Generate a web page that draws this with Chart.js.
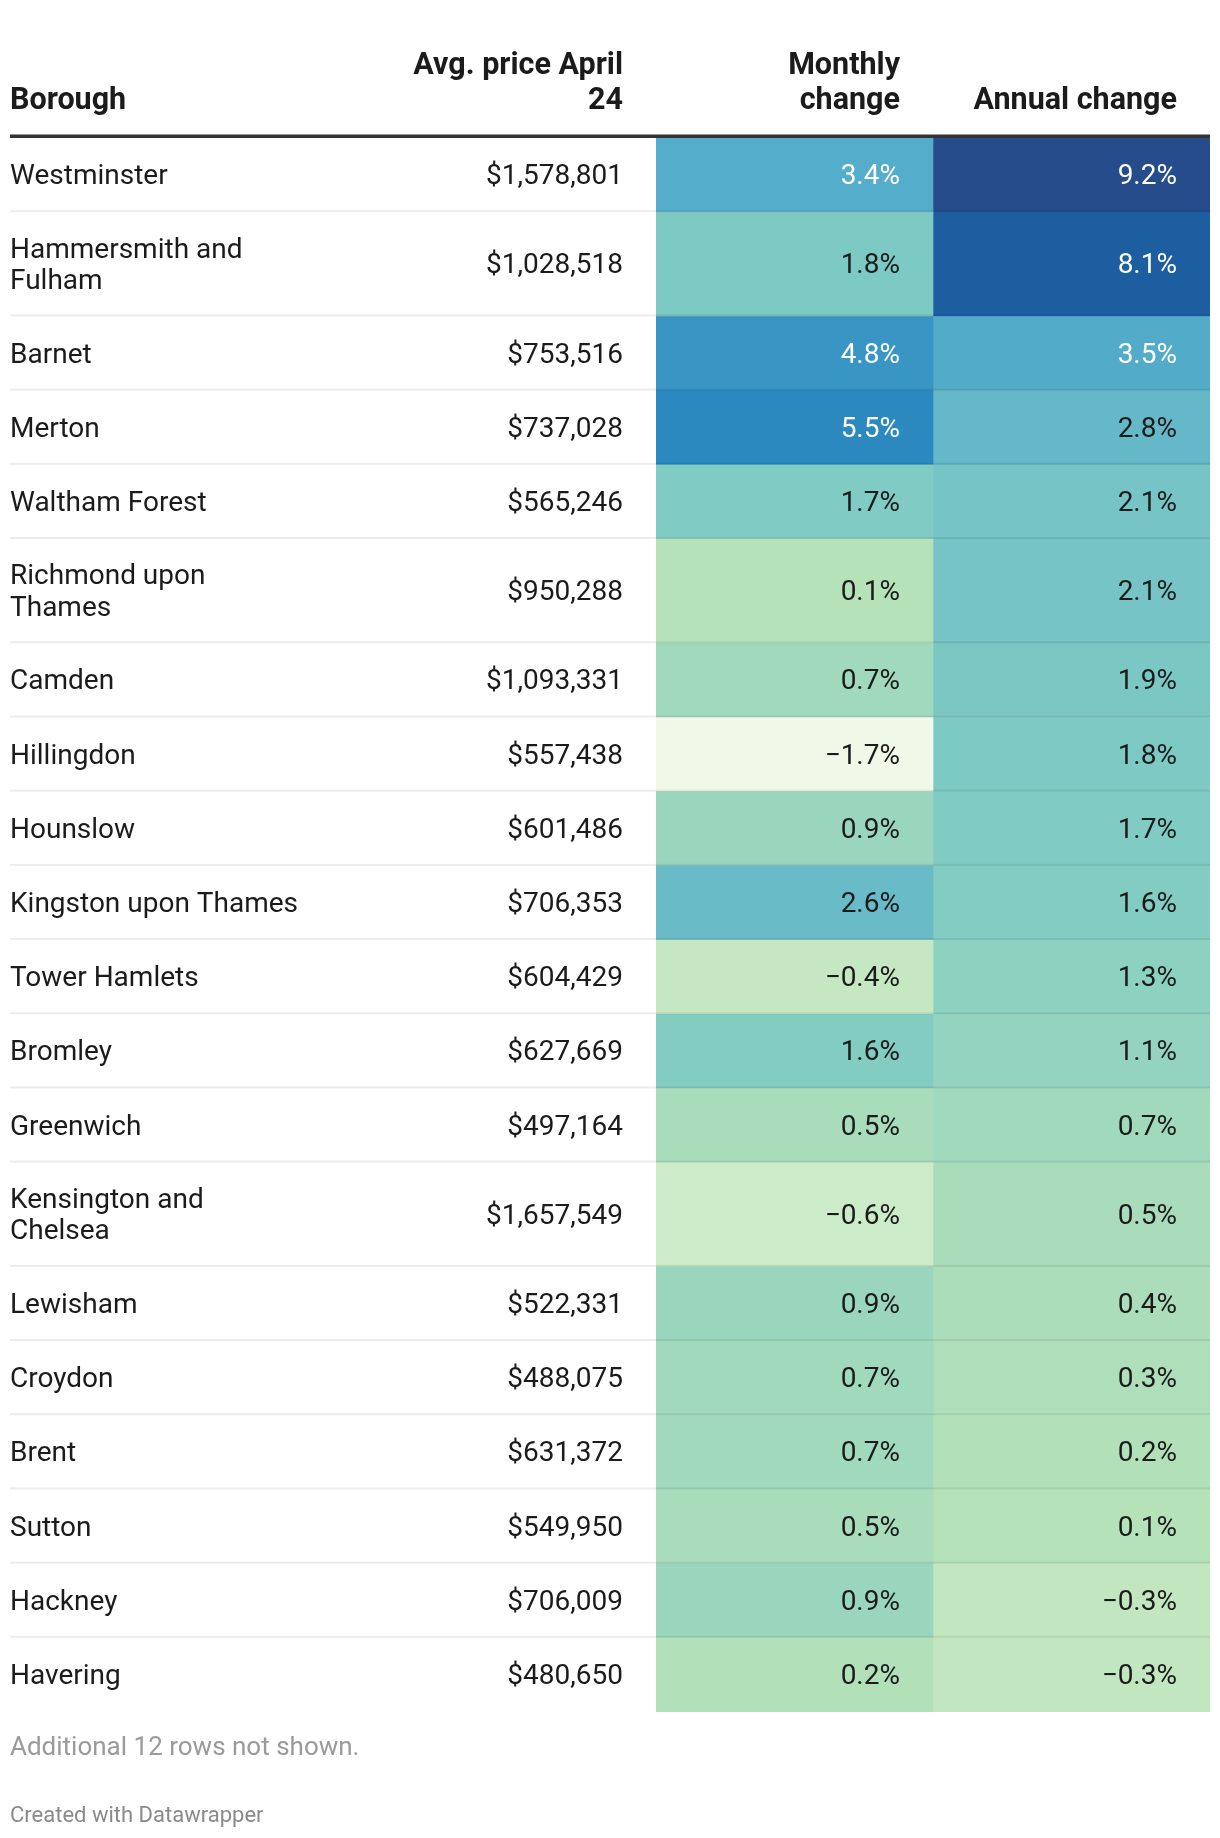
<!DOCTYPE html>
<html>
<head>
<meta charset="utf-8">
<title>London boroughs – average price April 24</title>
<script src="https://cdn.jsdelivr.net/npm/chart.js@4.4.1/dist/chart.umd.min.js"></script>
<style>
    html, body { margin: 0; padding: 0; background: #ffffff; }
    #wrap { position: relative; width: 1220px; height: 1838px; }
</style>
</head>
<body>
<div id="wrap"><canvas id="tableChart"></canvas></div>
<script>
// -------------------------------------------------------------
// Table data (one entry per row, top to bottom)
// -------------------------------------------------------------
const boroughs = [
    ['Westminster'],
    ['Hammersmith and', 'Fulham'],
    ['Barnet'],
    ['Merton'],
    ['Waltham Forest'],
    ['Richmond upon', 'Thames'],
    ['Camden'],
    ['Hillingdon'],
    ['Hounslow'],
    ['Kingston upon Thames'],
    ['Tower Hamlets'],
    ['Bromley'],
    ['Greenwich'],
    ['Kensington and', 'Chelsea'],
    ['Lewisham'],
    ['Croydon'],
    ['Brent'],
    ['Sutton'],
    ['Hackney'],
    ['Havering']
];
const avgPrice = [1578801, 1028518, 753516, 737028, 565246, 950288, 1093331, 557438, 601486, 706353,
                  604429, 627669, 497164, 1657549, 522331, 488075, 631372, 549950, 706009, 480650];
const monthlyChange = [3.4, 1.8, 4.8, 5.5, 1.7, 0.1, 0.7, -1.7, 0.9, 2.6,
                       -0.4, 1.6, 0.5, -0.6, 0.9, 0.7, 0.7, 0.5, 0.9, 0.2];
const annualChange = [9.2, 8.1, 3.5, 2.8, 2.1, 2.1, 1.9, 1.8, 1.7, 1.6,
                      1.3, 1.1, 0.7, 0.5, 0.4, 0.3, 0.2, 0.1, -0.3, -0.3];
const heatColumns = ['Monthly change', 'Annual change'];
const columnHeaders = [['Borough'], ['Avg. price April', '24'], ['Monthly', 'change'], ['Annual change']];
const footNote = 'Additional 12 rows not shown.';
const credit = 'Created with Datawrapper';

// -------------------------------------------------------------
// Styles / layout
// -------------------------------------------------------------
const TEXT = '#1b1b1b';
const FONT = 'Roboto, "Noto Sans", sans-serif';
const BODY_FONT = `400 28px ${FONT}`;
const ROW_PAD = 44.1;     // vertical padding of a row
const ROW_LINE = 30.1;    // extra height per label line
const TEXT_LINE = 31.5;   // text line spacing inside a cell
const CELL_PAD = 33;      // right padding of numeric cells
const BASE_OFF = 9;       // baseline offset from row centre
const LEFT = 10, RIGHT = 1210, HEAD_BOTTOM = 138, BODY_BOTTOM = 1712;

// colour scale shared by both change columns
const colorStops = [
    [-1.7, '#f0f9e8'],
    [0.0, '#b8e3b8'],
    [1.7, '#80cbc3'],
    [3.4, '#54adca'],
    [5.5, '#2b89bf'],
    [8.1, '#1c5e9f'],
    [9.2, '#264c8c']
];

const hexToRgb = h => [1, 3, 5].map(i => parseInt(h.slice(i, i + 2), 16));

const colorRgb = v => {
    if (v <= colorStops[0][0]) return hexToRgb(colorStops[0][1]);
    for (let i = 1; i < colorStops.length; i++) {
        const [v1, c1] = colorStops[i];
        if (v <= v1) {
            const [v0, c0] = colorStops[i - 1];
            const t = (v - v0) / (v1 - v0);
            const a = hexToRgb(c0), b = hexToRgb(c1);
            return a.map((x, k) => Math.round(x + (b[k] - x) * t));
        }
    }
    return hexToRgb(colorStops[colorStops.length - 1][1]);
};
const colorFor = v => `rgb(${colorRgb(v).join(',')})`;
const textOn = v => {
    const lum = colorRgb(v).map(c => {
        c /= 255;
        return c <= 0.03928 ? c / 12.92 : Math.pow((c + 0.055) / 1.055, 2.4);
    });
    const L = 0.2126 * lum[0] + 0.7152 * lum[1] + 0.0722 * lum[2];
    return L < 0.38 ? '#ffffff' : TEXT;
};

const fmtPct = v => (v < 0 ? '\u2212' : '') + Math.abs(v).toFixed(1) + '%';
const fmtPrice = v => '$' + v.toLocaleString('en-US');

// row extents in the y scale's units (taller rows for wrapped labels)
const rowTop = [];
const rowBottom = [];
let acc = 0;
boroughs.forEach(lines => {
    rowTop.push(acc);
    acc += ROW_PAD + ROW_LINE * lines.length;
    rowBottom.push(acc);
});
const totalRows = acc;

// -------------------------------------------------------------
// Plugin: separators, cell values, header, label columns, footer
// -------------------------------------------------------------
const tablePlugin = {
    id: 'tableText',
    afterDatasetsDraw(chart) {
        const { ctx, scales: { y } } = chart;
        ctx.save();

        // row separators (skip after last row)
        ctx.fillStyle = 'rgba(0,0,0,0.075)';
        for (let i = 0; i < boroughs.length - 1; i++) {
            const yb = y.getPixelForValue(rowBottom[i]);
            ctx.fillRect(LEFT, yb - 2, RIGHT - LEFT, 2);
        }

        // values inside heat cells
        ctx.font = BODY_FONT;
        ctx.textAlign = 'right';
        ctx.textBaseline = 'alphabetic';
        const series = [monthlyChange, annualChange];
        chart.data.datasets.forEach((ds, di) => {
            const meta = chart.getDatasetMeta(di);
            meta.data.forEach((bar, i) => {
                const v = series[di][i];
                const cy = (bar.y + bar.base) / 2;
                ctx.fillStyle = textOn(v);
                ctx.fillText(fmtPct(v), bar.x + bar.width / 2 - CELL_PAD, cy + BASE_OFF);
            });
        });
        ctx.restore();
    },
    afterDraw(chart) {
        const { ctx, chartArea, scales: { y } } = chart;
        const priceRight = chartArea.left - CELL_PAD;
        const colW = (chartArea.right - chartArea.left) / heatColumns.length;
        ctx.save();

        // header
        ctx.fillStyle = TEXT;
        ctx.font = `700 30.5px ${FONT}`;
        ctx.textBaseline = 'alphabetic';
        const headBase = 109, headLine = 35;
        const headX = [LEFT, priceRight, chartArea.left + colW - CELL_PAD, chartArea.left + 2 * colW - CELL_PAD];
        columnHeaders.forEach((lines, c) => {
            ctx.textAlign = c === 0 ? 'left' : 'right';
            lines.forEach((ln, k) => {
                ctx.fillText(ln, headX[c], headBase - (lines.length - 1 - k) * headLine);
            });
        });
        ctx.fillStyle = '#333333';
        ctx.fillRect(LEFT, 134.5, RIGHT - LEFT, 3.5);

        // borough names and prices
        ctx.font = BODY_FONT;
        ctx.fillStyle = TEXT;
        boroughs.forEach((lines, i) => {
            const cy = (y.getPixelForValue(rowTop[i]) + y.getPixelForValue(rowBottom[i])) / 2;
            ctx.textAlign = 'left';
            lines.forEach((ln, k) => {
                const off = (k - (lines.length - 1) / 2) * TEXT_LINE;
                ctx.fillText(ln, LEFT, cy + off + BASE_OFF);
            });
            ctx.textAlign = 'right';
            ctx.fillText(fmtPrice(avgPrice[i]), priceRight, cy + BASE_OFF);
        });

        // footer
        ctx.textAlign = 'left';
        ctx.fillStyle = '#9a9a9a';
        ctx.font = `400 26px ${FONT}`;
        ctx.fillText(footNote, LEFT, 1755);
        ctx.fillStyle = '#8a8a8a';
        ctx.font = `400 22px ${FONT}`;
        ctx.fillText(credit, LEFT, 1822);
        ctx.restore();
    }
};

// -------------------------------------------------------------
// Chart: heat cells are floating bars on a category x / linear y
// -------------------------------------------------------------
const makeCells = (values, column) => values.map((v, i) => ({ x: column, y: [rowTop[i], rowBottom[i]] }));

const ctx = document.getElementById('tableChart').getContext('2d');
new Chart(ctx, {
    type: 'bar',
    data: {
        labels: heatColumns,
        datasets: [
            {
                label: heatColumns[0],
                data: makeCells(monthlyChange, heatColumns[0]),
                backgroundColor: monthlyChange.map(colorFor),
                borderWidth: 0
            },
            {
                label: heatColumns[1],
                data: makeCells(annualChange, heatColumns[1]),
                backgroundColor: annualChange.map(colorFor),
                borderWidth: 0
            }
        ]
    },
    options: {
        responsive: true,
        maintainAspectRatio: false,
        devicePixelRatio: 1,
        animation: false,
        events: [],
        grouped: false,
        categoryPercentage: 1,
        barPercentage: 1,
        layout: {
            padding: { left: 656, right: 1220 - RIGHT, top: HEAD_BOTTOM, bottom: 1838 - BODY_BOTTOM }
        },
        scales: {
            x: { type: 'category', display: false, offset: true },
            y: { type: 'linear', display: false, reverse: true, min: 0, max: totalRows }
        },
        plugins: {
            legend: { display: false },
            tooltip: { enabled: false }
        }
    },
    plugins: [tablePlugin]
});
</script>
</body>
</html>
